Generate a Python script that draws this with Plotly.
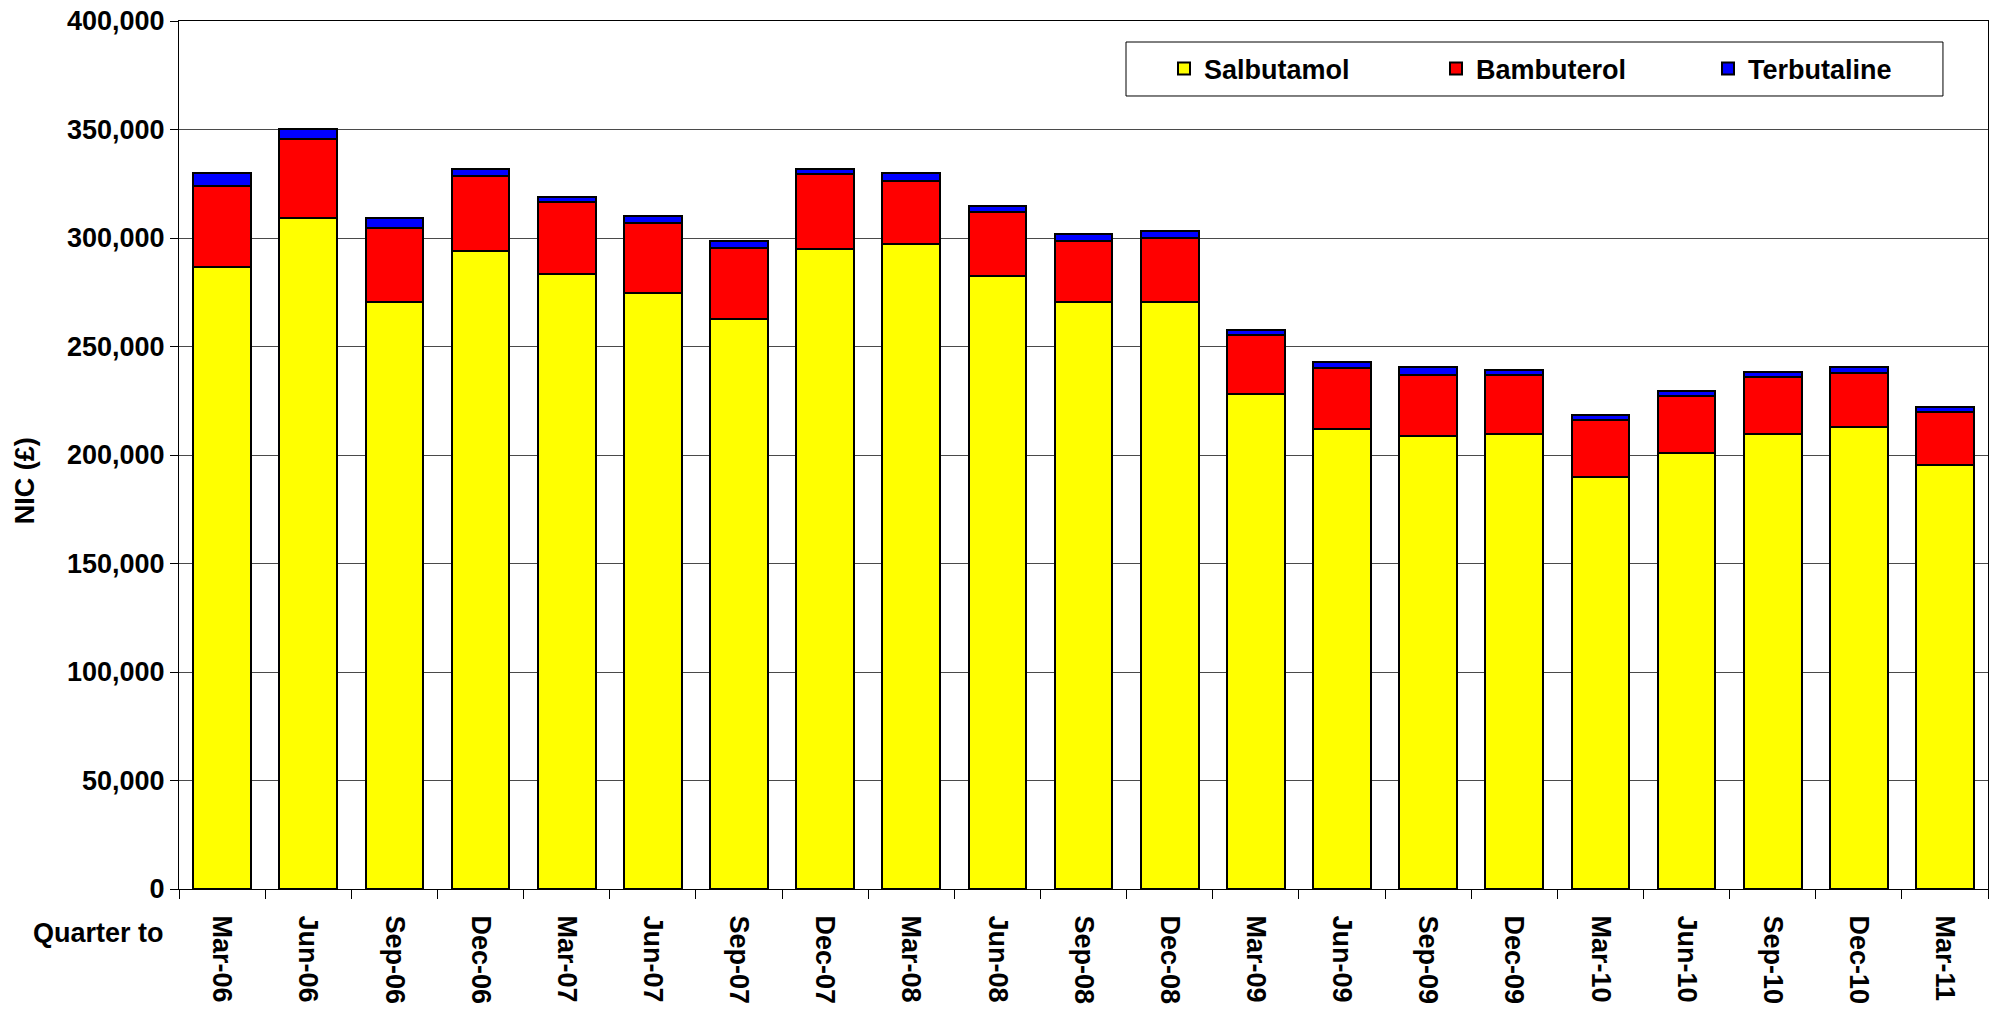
import plotly.graph_objects as go

quarters = ["Mar-06", "Jun-06", "Sep-06", "Dec-06", "Mar-07", "Jun-07", "Sep-07",
            "Dec-07", "Mar-08", "Jun-08", "Sep-08", "Dec-08", "Mar-09", "Jun-09",
            "Sep-09", "Dec-09", "Mar-10", "Jun-10", "Sep-10", "Dec-10", "Mar-11"]

salbutamol = [286600, 309100, 270400, 294100, 283400, 274700, 262900,
              295000, 297200, 282300, 270500, 270400, 228100, 212000,
              208700, 209800, 190000, 200900, 209800, 213000, 195500]

bambuterol = [37500, 36500, 34400, 34300, 33100, 32100, 32300,
              34300, 29100, 29900, 27900, 29800, 27000, 27900,
              28300, 27200, 26100, 26100, 26100, 24900, 24100]

terbutaline = [5700, 4600, 4600, 3500, 2600, 3500, 3400,
               2600, 3600, 2600, 3500, 2800, 2700, 2800,
               3400, 2400, 2500, 2500, 2500, 2500, 2300]

y_ticks = [0, 50000, 100000, 150000, 200000, 250000, 300000, 350000, 400000]

FONT = "Liberation Sans"
BOLD = dict(family=FONT, color="black", size=27, weight="bold")

fig = go.Figure()
for name, vals, col in [("Salbutamol", salbutamol, "#FFFF00"),
                        ("Bambuterol", bambuterol, "#FF0000"),
                        ("Terbutaline", terbutaline, "#0000FF")]:
    fig.add_trace(go.Bar(x=quarters, y=vals, name=name,
                         marker=dict(color=col, line=dict(color="black", width=2))))

fig.update_layout(
    barmode="stack",
    bargap=0.33,
    width=1995, height=1017,
    margin=dict(l=179, r=7, t=21, b=128, autoexpand=False),
    plot_bgcolor="white", paper_bgcolor="white",
    font=BOLD,
    legend=dict(orientation="h", x=0.5445, y=0.9447, xanchor="left", yanchor="middle",
                borderwidth=0, bgcolor="rgba(0,0,0,0)",
                font=BOLD,
                entrywidth=227, entrywidthmode="pixels", itemsizing="constant",
                traceorder="normal"),
    showlegend=True,
    shapes=[dict(type="rect", xref="paper", yref="paper",
                 x0=0.5235, x1=0.9751, y0=0.9136, y1=0.9758,
                 line=dict(color="black", width=1), fillcolor="white", layer="above")],
    annotations=[
        dict(text="NIC (£)", x=-0.085, y=0.470, xref="paper", yref="paper",
             xanchor="center", yanchor="middle",
             textangle=-90, showarrow=False, font=BOLD),
        dict(text="Quarter to", x=-0.007, y=-0.051, xref="paper", yref="paper",
             xanchor="right", yanchor="middle", showarrow=False, font=BOLD),
    ],
)

fig.update_xaxes(
    type="category", tickangle=90, tickson="boundaries", ticks="outside",
    ticklen=9, tickcolor="black", showline=True, linecolor="black", linewidth=1,
    mirror=True, showgrid=False, automargin=False, ticklabelstandoff=20,
    tickfont=BOLD,
)
fig.update_yaxes(
    range=[0, 400000], tickvals=y_ticks, tickformat=",d", ticks="outside",
    ticklen=8, tickcolor="black", showline=True, linecolor="black", linewidth=1,
    mirror=True, showgrid=True, gridcolor="#4a4a4a", gridwidth=1,
    automargin=False, tickfont=BOLD, zeroline=False,
)

fig.write_html("out.html",
               config={"displayModeBar": False},
               post_script="document.body.style.margin='0';document.body.style.overflow='hidden';")
